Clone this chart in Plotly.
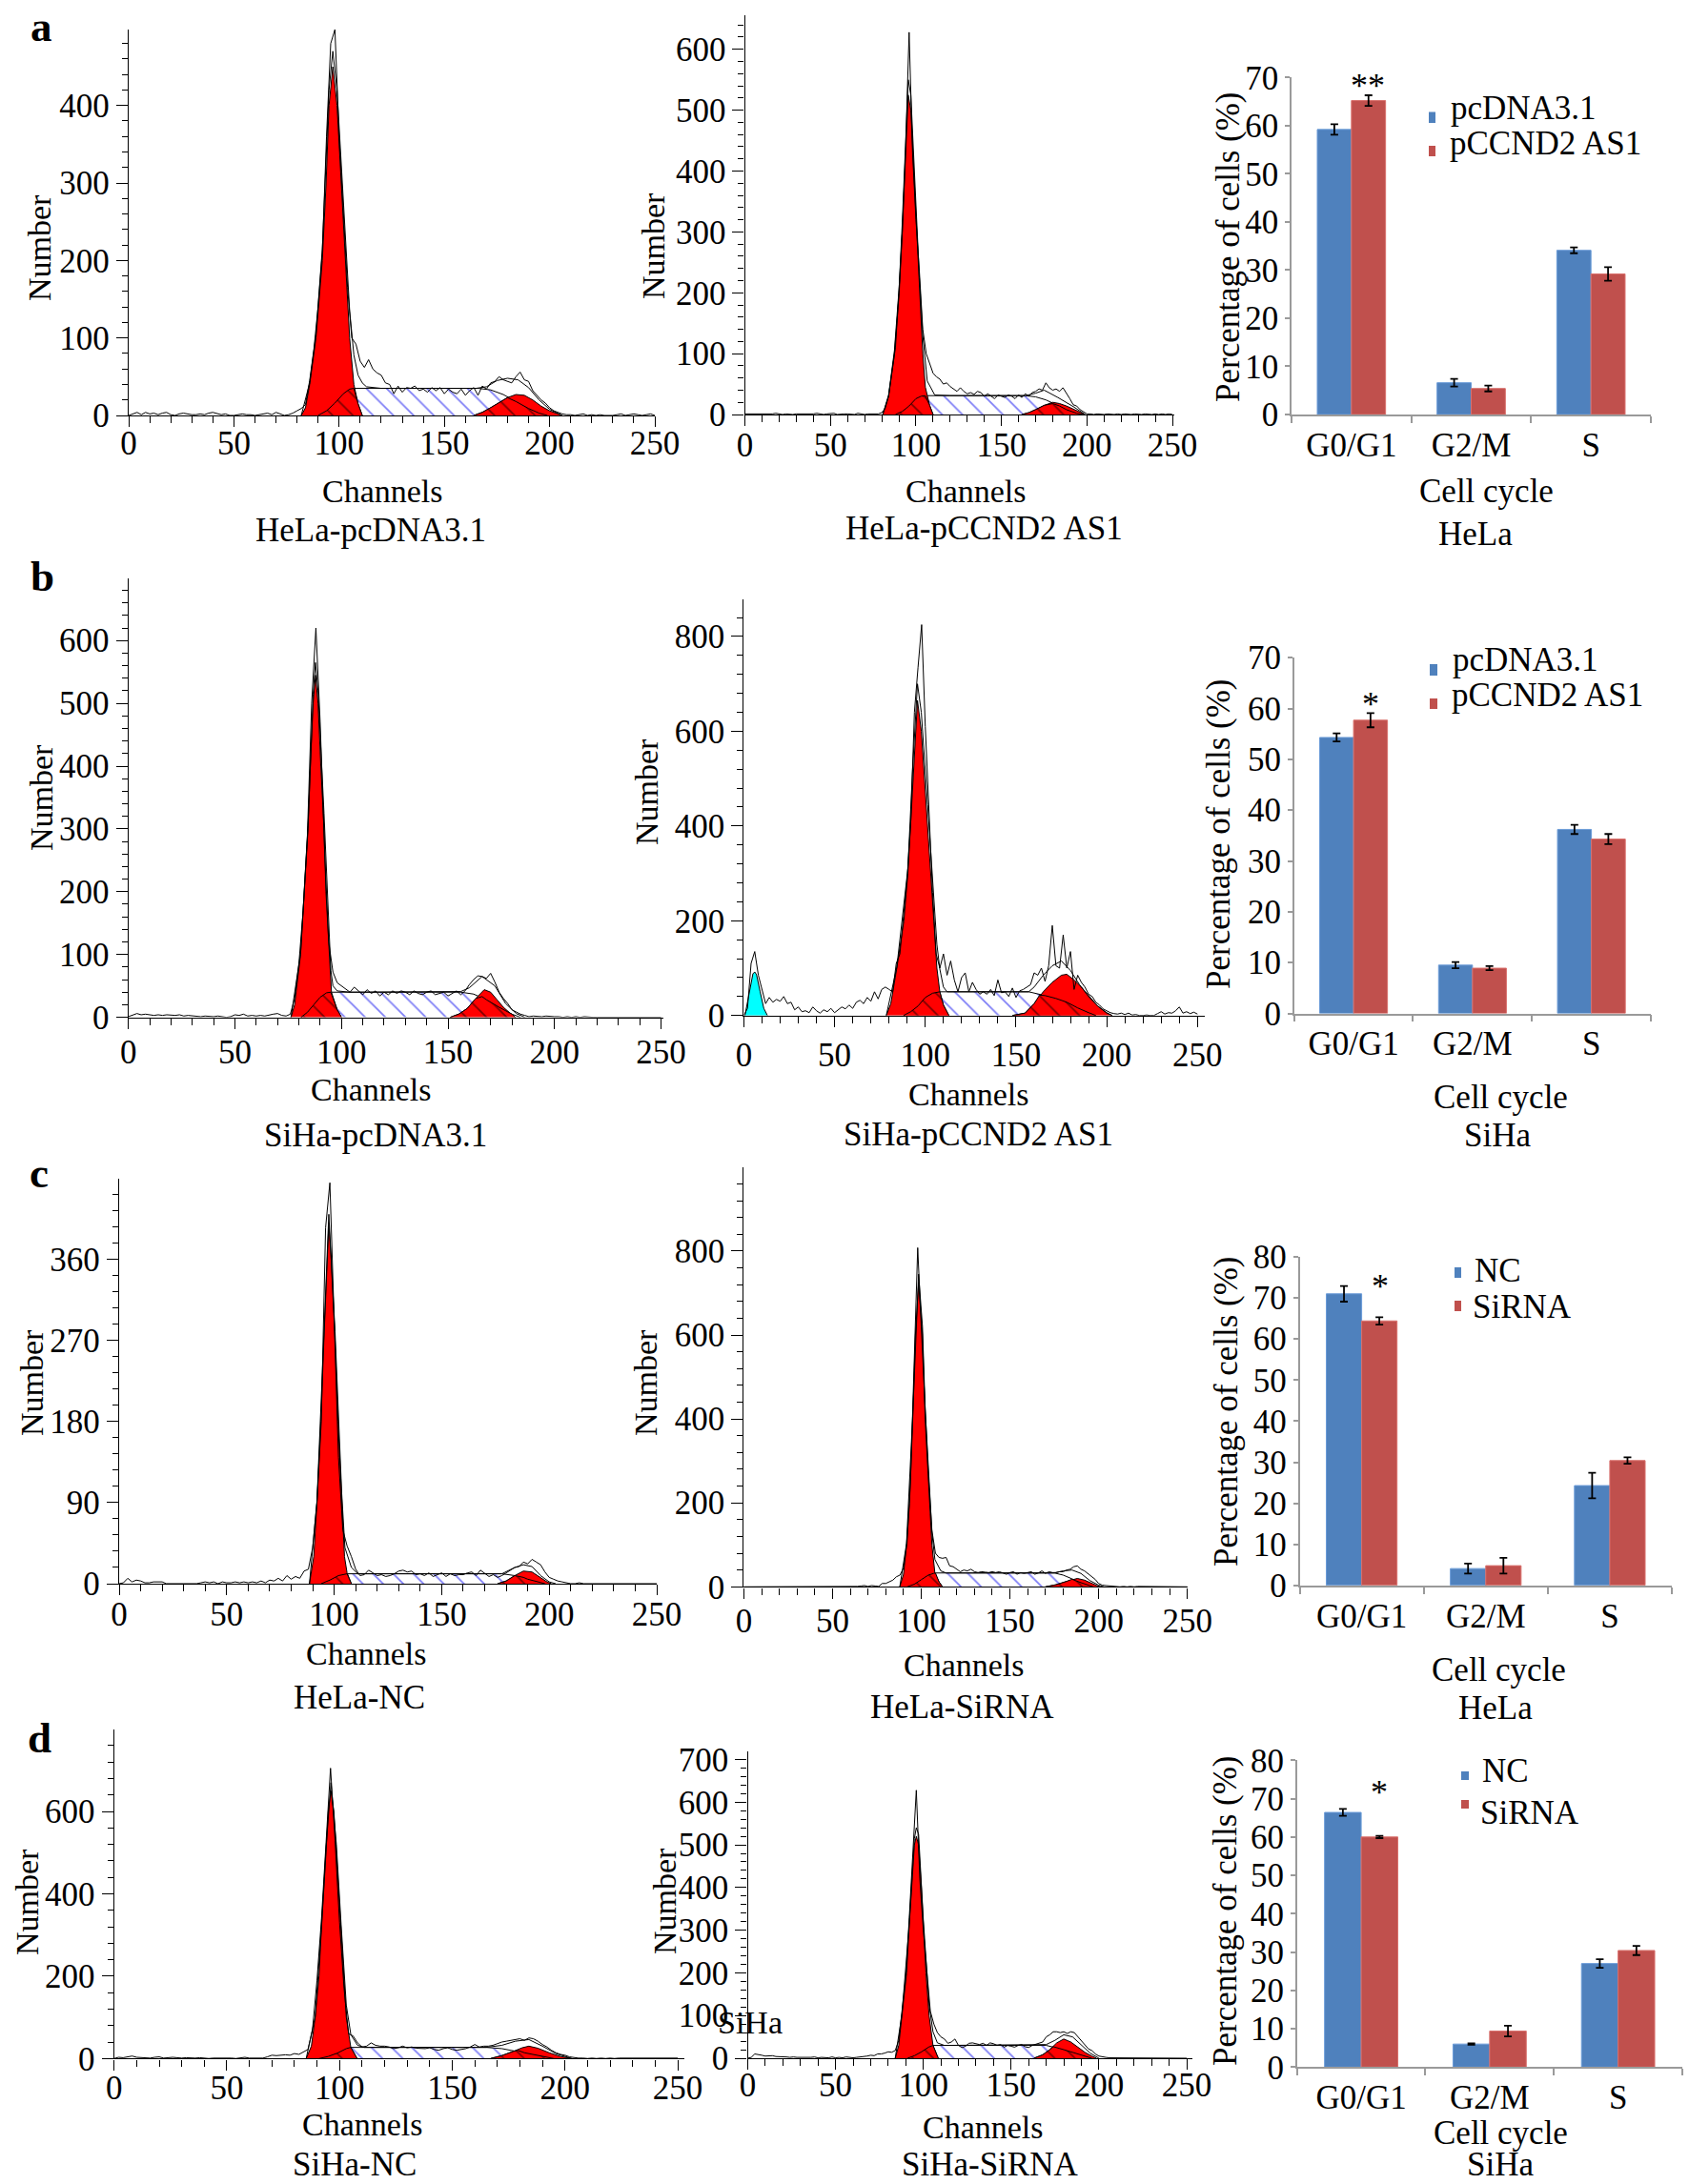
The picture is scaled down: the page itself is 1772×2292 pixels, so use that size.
import plotly.graph_objects as go

W, H = 1772, 2292
FONT = "Liberation Serif"
RED, BAR_BLUE, BAR_RED = "#ff0000", "#4f81bd", "#c0504d"
AXIS_GRAY = "#9a9a9a"

# ---------- histogram data: raw counts on a grid of every 2 channels (0..250) ----------
RAW_A1 = [0,2,4,1,4,2,3,1,3,4, 1,0,2,3,2,1,1,2,1,3, 4,2,1,2,0,0,1,2,1,1, 0,1,2,3,1,4,2,0,1,3,
          6,9,14,45,85,140,210,360,480,498, 360,265,165,100,92,70,62,72,60,55, 52,42,40,28,38,30,36,35,38,32,
          34,30,36,32,36,28,34,30,28,34, 26,32,36,26,38,34,42,44,50,46, 44,42,50,56,46,44,32,26,20,16,
          10,6,4,2,1,1,0,1,2,0, 1,0,1,0,0,0,1,2,0,1, 2,1,0,1,2,0]
RAW_A2 = [1,1,0,1,1,0,1,0,1,2, 1,0,1,0,0,1,1,0,0,1, 1,2,1,0,1,1,2,0,1,1, 1,1,0,2,1,0,1,1,0,1,
          3,10,30,70,110,200,300,440,628,430, 320,235,140,100,85,68,62,58,50,52, 46,42,38,44,38,34,36,33,38,36,
          30,34,30,26,32,30,28,32,30,26, 32,28,34,30,36,38,42,40,52,44, 40,42,38,44,36,26,16,14,8,4,
          1,1,0,1,0,0,1,0,0,1, 0,1,0,0,1,0,0,1,0,0, 1,0,1,0,1,0]
RAW_B1 = [1,4,6,4,5,4,3,4,3,4, 3,3,4,2,3,2,2,1,2,1, 1,2,1,0,1,4,3,5,2,3, 2,3,2,4,5,6,3,2,5,30,
          85,170,290,500,620,470,270,120,72,55, 50,46,40,48,42,36,44,38,42,34, 40,36,42,38,42,40,36,42,38,36,
          40,42,36,38,40,34,38,42,36,42, 52,60,66,65,62,70,56,40,30,22, 12,8,5,3,1,2,1,1,2,1,
          1,1,0,1,0,1,0,1,0,0, 0,0,0,0,0,0,0,0,0,0, 0,0,0,0,0,0]
RAW_B2 = [0,15,110,135,85,55,25,38,28,34, 30,40,25,28,12,18,8,10,6,18, 10,5,12,8,15,6,12,18,14,22, 15,28,32,25,38,30,50,35,55,60,
          55,50,110,130,210,290,410,640,735,825, 610,430,260,130,100,130,85,115,75,50, 80,90,50,70,55,45,50,45,55,42,
          75,48,50,40,58,38,52,55,60,65, 90,85,100,72,105,190,105,100,170,100, 135,55,85,70,60,45,40,28,22,14,
          10,6,4,3,5,2,5,1,2,0, 0,1,0,0,4,8,3,6,5,10, 18,5,8,4,7,3]
RAW_C1 = [0,1,6,2,4,3,1,1,2,2, 2,0,0,0,0,0,0,0,0,1, 2,1,2,0,2,1,1,2,1,2, 1,2,1,3,1,4,3,6,3,9,
          5,8,6,14,16,40,90,180,395,445, 290,140,60,42,30,16,9,10,15,12, 9,10,8,9,11,14,15,13,14,10,
          11,9,12,8,10,12,8,11,9,10, 10,12,13,9,15,11,8,10,7,9, 12,15,18,19,24,22,27,24,21,13,
          7,5,3,2,1,0,0,1,0,0, 0,0,0,0,0,0,0,0,0,0, 0,0,0,0,0,0]
RAW_C2 = [0,0,1,1,0,1,0,0,1,0, 0,0,0,0,0,0,0,0,0,1, 1,1,0,1,0,0,1,1,0,1, 1,1,1,2,3,1,3,2,1,8,
          8,12,16,24,28,45,105,260,560,808, 620,430,270,135,80,70,68,70,50,48, 42,36,40,38,42,36,34,36,35,34,
          36,34,36,33,30,34,36,30,34,32, 34,36,30,33,38,32,36,34,34,36, 36,40,42,48,50,42,38,32,26,18,
          8,4,3,2,1,1,0,1,0,1, 0,1,1,0,1,0,1,0,0,1, 0,1,0,0,0,0]
RAW_D1 = [0,3,2,4,6,3,2,2,1,3, 4,1,2,3,2,1,2,1,1,2, 1,0,1,1,2,1,1,0,2,3, 1,1,2,1,4,8,7,8,9,8,
          12,10,16,22,70,190,340,510,705,530, 330,170,60,55,38,28,30,38,32,30, 30,28,24,26,30,26,28,25,25,24,
          26,22,20,24,26,22,20,22,24,28, 34,28,30,30,32,36,40,42,44,46, 48,44,50,48,42,34,28,20,14,10,
          8,4,2,1,1,0,1,0,1,0, 1,0,1,1,0,1,0,1,0,0, 1,0,0,1,0,1]
RAW_D2 = [0,2,10,9,7,5,5,6,4,4, 3,3,2,3,2,2,2,1,2,3, 1,2,1,1,3,1,2,1,3,2, 1,2,3,3,5,7,6,10,10,12,
          15,14,18,42,110,190,330,480,628,420, 300,205,110,80,60,50,45,35,38,45, 30,25,28,35,36,34,32,35,30,36,
          34,30,32,26,30,28,26,30,32,27, 25,30,33,35,38,50,55,62,62,60, 62,58,62,60,50,40,30,22,18,10,
          5,3,2,1,1,1,0,1,0,0, 1,0,0,1,0,1,0,1,0,0, 1,0,1,0,1,0]

# ---------- fitted components as (channel, count) ----------
G1_A1 = [(82,0),(84,10),(86,40),(87,60),(89,100),(92,200),(93.8,300),(95.2,400),(97,450),(99,400),(101,300),(103,200),(105,100),(107,40),(109,15),(111,0)]
S_A1 = [(90,0),(94,6),(98,16),(102,28),(105,34),(107,35),(166,35),(172,33),(178,27),(184,18),(190,9),(195,3),(199,0)]
G2_A1 = [(164,0),(168,4),(172,10),(176,17),(180,23),(184,27),(188,26),(192,20),(196,12),(200,6),(204,2),(206,0)]
T1_A1 = [(90,0),(94,6),(98,16),(102,28),(105,34),(107,35),(109,15),(111,0)]
T2_A1 = [(164,0),(168,4),(172,10),(176,17),(180,23),(184,18),(190,9),(195,3),(199,0)]
FIT_A1 = [(82,0),(86,42),(89,105),(92,215),(95.2,420),(97,470),(99,420),(101,325),(103,225),(105,135),(107,78),(109,52),(111,42),(113,37),(120,35),(165,35),(170,37),(175,45),(180,48),(185,46),(190,36),(195,20),(200,8),(206,0)]

G1_A2 = [(80.6,0),(84,30),(87.4,100),(90.2,200),(92,300),(93.4,400),(94.9,500),(95.5,525),(97,500),(98.7,400),(100.2,300),(102,200),(104,100),(105.5,45),(108,15),(110,0)]
S_A2 = [(88,0),(92,5),(96,14),(100,26),(103,30),(105.5,31),(164,31),(170,29),(176,24),(182,16),(188,8),(194,2),(198,0)]
G2_A2 = [(162,0),(166,3),(170,8),(175,15),(180,20),(184,18),(188,14),(192,9),(196,4),(199,0)]
T1_A2 = [(88,0),(92,5),(96,14),(100,26),(103,30),(105.5,31),(108,15),(110,0)]
T2_A2 = [(162,0),(166,3),(170,8),(175,15),(180,18),(184,14),(188,8),(194,2),(198,0)]
FIT_A2 = [(80.6,0),(84,32),(87.4,105),(90.2,210),(92,315),(94.9,520),(95.5,550),(97,525),(98.7,425),(100.2,325),(102,225),(104,130),(105.5,80),(106.6,55),(111,32),(120,31),(164,31),(170,35),(175,40),(183,28),(192,13),(199,0)]

G1_B1 = [(76.3,0),(78,20),(80.8,100),(82.7,200),(84.3,300),(85.4,400),(86.7,500),(87.8,545),(89,500),(90.3,400),(91.8,300),(92.7,200),(94.3,100),(95.3,40),(98,12),(100,0)]
S_B1 = [(81,0),(84,8),(87,20),(90,32),(93,39),(95,40),(156,40),(162,37),(168,28),(174,16),(180,5),(184,0)]
G2_B1 = [(151,0),(155,5),(159,14),(163,30),(167,44),(170,40),(173,28),(176,16),(179,7),(181.6,0)]
T1_B1 = [(81,0),(84,8),(87,20),(90,32),(93,39),(95,40),(98,12),(100,0)]
T2_B1 = [(151,0),(155,5),(159,14),(163,30),(166,33),(168,28),(174,16),(180,5),(181.6,0)]
FIT_B1 = [(76.3,0),(80.8,102),(84.3,305),(86.7,515),(87.8,565),(89,520),(91.8,325),(94.3,135),(95,75),(96,50),(98,42),(104,40),(156,41),(160,47),(166,65),(172,50),(177,22),(182,6),(186,0)]

CY_B2 = [(0.6,0),(3,50),(5,88),(6,92),(7,86),(9,50),(11,15),(13,0)]
G1_B2 = [(78.5,0),(81,25),(84.3,100),(88.2,200),(90.4,300),(91.8,400),(93,500),(94.6,600),(95.7,665),(97.8,600),(99.6,500),(101.3,400),(103.2,300),(104.7,200),(106.4,100),(108,50),(110,22),(113,0)]
S_B2 = [(88,0),(92,8),(96,20),(100,38),(104,47),(108,50),(157,50),(162,46),(166,42),(172,36),(178,28),(184,16),(190,6),(194,0)]
G2_B2 = [(148,0),(155,5),(160,25),(165,50),(170,70),(175,85),(178,87),(182,75),(186,60),(190,42),(195,20),(200,6),(203,0)]
T1_B2 = [(88,0),(92,8),(96,20),(100,38),(104,47),(108,50),(110,22),(113,0)]
T2_B2 = [(148,0),(155,5),(160,25),(163,43),(166,42),(172,36),(178,28),(184,16),(190,6),(194,0)]
FIT_B2 = [(78.5,0),(84.3,102),(90.4,310),(93,520),(95.7,700),(97.8,640),(101.3,445),(104.7,250),(106.4,150),(108,98),(110,60),(112,50),(157,50),(160,60),(165,85),(170,105),(175,115),(180,95),(185,65),(190,40),(195,20),(200,5),(203,0)]

G1_C1 = [(88.5,0),(90.5,30),(92,90),(93.8,180),(95.2,270),(96.8,360),(97.5,400),(98.6,360),(100.4,270),(101.8,180),(103.5,90),(104.8,30),(106,12),(108,0)]
S_C1 = [(94,0),(98,4),(102,9),(105,11),(178,11),(184,9),(190,5),(198,0)]
G2_C1 = [(176,0),(180,3),(184,9),(188,14),(192,13),(196,7),(199,2),(201,0)]
T1_C1 = [(94,0),(98,4),(102,9),(105,11),(106,11),(108,0)]
T2_C1 = [(176,0),(180,3),(184,9),(188,7),(190,5),(198,0)]
FIT_C1 = [(88.5,0),(92,92),(95.2,275),(97.5,410),(100.4,280),(103.5,100),(105,40),(108,18),(111,11),(178,11),(184,18),(188,21),(192,19),(196,9),(200,2),(203,0)]

G1_C2 = [(87.9,0),(90,30),(91.7,100),(93.4,200),(95.2,400),(96.7,600),(98.5,725),(100.7,600),(102.2,400),(104.8,200),(106,100),(107.7,33),(110,12),(112,0)]
S_C2 = [(92,0),(96,6),(100,17),(104,28),(107,32),(108,33),(175,33),(180,28),(185,19),(190,10),(197,0)]
G2_C2 = [(170,0),(176,5),(182,13),(188,20),(192,16),(196,8),(199,3),(201,0)]
T1_C2 = [(92,0),(96,6),(100,17),(104,28),(107,32),(108,33),(110,12),(112,0)]
T2_C2 = [(170,0),(176,5),(182,13),(185,18),(190,10),(197,0)]
FIT_C2 = [(87.9,0),(91.7,103),(95.2,410),(98.5,745),(100.7,620),(102.2,425),(104.8,225),(106,130),(107.7,65),(111,38),(114,33),(175,33),(180,38),(185,40),(190,32),(195,15),(200,4),(203,0)]

G1_D1 = [(85.2,0),(87.5,30),(89.2,100),(90.9,200),(91.8,300),(93,400),(94,500),(95,600),(96.2,650),(97.5,600),(98.6,500),(99.7,400),(100.7,300),(101.7,200),(103,100),(105,27),(107.8,0)]
S_D1 = [(91,0),(95,5),(99,13),(103,24),(105,27),(165,27),(172,24),(180,16),(188,7),(195,0)]
G2_D1 = [(167,0),(172,7),(177,17),(181,26),(184,30),(188,25),(193,14),(198,5),(203,0)]
T1_D1 = [(91,0),(95,5),(99,13),(103,24),(105,27),(107.8,0)]
T2_D1 = [(167,0),(172,7),(177,17),(179,20),(182,14),(188,7),(195,0)]
FIT_D1 = [(85.2,0),(89.2,102),(91.8,305),(94,510),(96.2,670),(98.6,520),(100.7,325),(103,130),(105,58),(108,32),(111,27),(165,27),(172,32),(178,42),(184,46),(190,30),(196,12),(203,0)]

G1_D2 = [(84,0),(86,30),(87.8,100),(90.5,200),(91.8,300),(93.4,400),(94.9,500),(96,520),(97.3,500),(98.9,400),(100,300),(101.5,200),(103.3,100),(105.5,30),(108.5,0)]
S_D2 = [(91,0),(95,6),(99,15),(103,26),(105.5,30),(170,30),(175,25),(180,20),(188,10),(196,0)]
G2_D2 = [(163,0),(168,8),(172,20),(176,36),(180,45),(184,38),(188,26),(192,14),(196,5),(198.6,0)]
T1_D2 = [(91,0),(95,6),(99,15),(103,26),(105.5,30),(108.5,0)]
T2_D2 = [(163,0),(168,8),(172,20),(174,27),(180,20),(188,10),(196,0)]
FIT_D2 = [(84,0),(87.8,102),(91.8,305),(94.9,515),(96,540),(97.3,525),(100,325),(103.3,125),(105.5,62),(108,36),(112,30),(170,32),(175,42),(180,55),(185,50),(190,30),(195,12),(200,0)]

# ---------- bar data ----------
CATEGORIES = ["G0/G1", "G2/M", "S"]
A3_CTRL, A3_CTRL_ERR = [59.2, 6.6, 34.1], [1.1, 0.8, 0.6]
A3_TEST, A3_TEST_ERR = [65.2, 5.4, 29.2], [1.1, 0.6, 1.4]
B3_CTRL, B3_CTRL_ERR = [54.3, 9.5, 36.2], [0.8, 0.6, 0.9]
B3_TEST, B3_TEST_ERR = [57.7, 8.9, 34.3], [1.4, 0.4, 1.0]
C3_CTRL, C3_CTRL_ERR = [71.0, 4.1, 24.3], [1.9, 1.2, 3.1]
C3_TEST, C3_TEST_ERR = [64.4, 4.8, 30.4], [0.9, 1.9, 0.8]
D3_CTRL, D3_CTRL_ERR = [66.4, 6.0, 27.0], [0.9, 0.2, 1.1]
D3_TEST, D3_TEST_ERR = [60.0, 9.4, 30.4], [0.3, 1.4, 1.2]

# ---------- text ----------
NUMBER = "Number"
CHANNELS = "Channels"
PERCENT = "Percentage of cells (%)"
CYCLE = "Cell cycle"

# ---------- geometry (pixels in the 1772x2292 page) ----------
HISTS = [
 dict(raw=RAW_A1, g1=G1_A1, s=S_A1, g2=G2_A1, t1=T1_A1, t2=T2_A1, fit=FIT_A1, xs=-13,
      x0=135, x250=687, xmax=250, y0=436, ytop=31, ymax=498, dt=100, mt=20,
      ylab=(41,260), xlab=(401,516), cap="HeLa-pcDNA3.1", capxy=(389,556)),
 dict(raw=RAW_A2, g1=G1_A2, s=S_A2, g2=G2_A2, t1=T1_A2, t2=T2_A2, fit=FIT_A2, xs=-10,
      x0=781.6, x250=1230, xmax=251, y0=435, ytop=16, ymax=656, dt=100, mt=20,
      ylab=(685,258), xlab=(1013,516), cap="HeLa-pCCND2 AS1", capxy=(1032,555)),
 dict(raw=RAW_B1, g1=G1_B1, s=S_B1, g2=G2_B1, t1=T1_B1, t2=T2_B1, fit=FIT_B1, xs=-6,
      x0=134.7, x250=693.6, xmax=251, y0=1067.6, ytop=607, ymax=699, dt=100, mt=20,
      ylab=(43,837), xlab=(389,1143), cap="SiHa-pcDNA3.1", capxy=(394,1191)),
 dict(raw=RAW_B2, g1=G1_B2, s=S_B2, g2=G2_B2, t1=T1_B2, t2=T2_B2, fit=FIT_B2, cy=CY_B2, xs=-1,
      x0=780.4, x250=1256.3, xmax=254, y0=1065.7, ytop=628.7, ymax=879, dt=200, mt=40,
      ylab=(679,831), xlab=(1016,1148), cap="SiHa-pCCND2 AS1", capxy=(1026,1190)),
 dict(raw=RAW_C1, g1=G1_C1, s=S_C1, g2=G2_C1, t1=T1_C1, t2=T2_C1, fit=FIT_C1, xs=-10,
      x0=125, x250=689, xmax=250, y0=1662, ytop=1236.7, ymax=449.8, dt=90, mt=18,
      ylab=(33,1451), xlab=(384,1735), cap="HeLa-NC", capxy=(377,1781)),
 dict(raw=RAW_C2, g1=G1_C2, s=S_C2, g2=G2_C2, t1=T1_C2, t2=T2_C2, fit=FIT_C2, xs=-7,
      x0=780.4, x250=1245.7, xmax=250, y0=1665.3, ytop=1225.3, ymax=999, dt=200, mt=40,
      ylab=(677,1451), xlab=(1011,1747), cap="HeLa-SiRNA", capxy=(1010,1791)),
 dict(raw=RAW_D1, g1=G1_D1, s=S_D1, g2=G2_D1, t1=T1_D1, t2=T2_D1, fit=FIT_D1, xs=-12,
      x0=119.7, x250=711, xmax=253, y0=2160.3, ytop=1815, ymax=799, dt=200, mt=40,
      ylab=(28,1996), xlab=(380,2229), cap="SiHa-NC", capxy=(372,2271)),
 dict(raw=RAW_D2, g1=G1_D2, s=S_D2, g2=G2_D2, t1=T1_D2, t2=T2_D2, fit=FIT_D2, xs=-14,
      x0=784.5, x250=1245, xmax=253, y0=2160, ytop=1838, ymax=719, dt=100, mt=20,
      ylab=(697,1995), xlab=(1031,2232), cap="SiHa-SiRNA", capxy=(1038,2271)),
]
BARS = [
 dict(ctrl=A3_CTRL, ce=A3_CTRL_ERR, test=A3_TEST, te=A3_TEST_ERR, names=("pcDNA3.1","pCCND2 AS1"),
      x0=1355, x1=1732, y0=435, ytop=81.3, ymax=70, dt=10,
      ylab=(1289,259), xlab=(1559,515), cap="HeLa", capxy=(1548,560), star="**", starxy=(1435,90),
      sw=(1499,1506), sw1=(117.5,129), sw2=(153,164), t1=(1520,113), t2=(1519,150)),
 dict(ctrl=B3_CTRL, ce=B3_CTRL_ERR, test=B3_TEST, te=B3_TEST_ERR, names=("pcDNA3.1","pCCND2 AS1"),
      x0=1357.7, x1=1732, y0=1063.5, ytop=690.2, ymax=70, dt=10,
      ylab=(1279,875), xlab=(1574,1151), cap="SiHa", capxy=(1571,1191), star="*", starxy=(1437.5,739),
      sw=(1500,1508), sw1=(697,709), sw2=(733,744), t1=(1522,692), t2=(1521,729)),
 dict(ctrl=C3_CTRL, ce=C3_CTRL_ERR, test=C3_TEST, te=C3_TEST_ERR, names=("NC","SiRNA"),
      x0=1363.5, x1=1754, y0=1663.8, ytop=1319, ymax=80, dt=10,
      ylab=(1286,1481), xlab=(1572.5,1752), cap="HeLa", capxy=(1569,1792), star="*", starxy=(1447.7,1350),
      sw=(1526,1533), sw1=(1330,1341), sw2=(1365,1376), t1=(1545,1333), t2=(1543,1372)),
 dict(ctrl=D3_CTRL, ce=D3_CTRL_ERR, test=D3_TEST, te=D3_TEST_ERR, names=("NC","SiRNA"),
      x0=1360.7, x1=1765, y0=2169.3, ytop=1847.3, ymax=80, dt=10,
      ylab=(1285,2005), xlab=(1574,2238), cap="SiHa", capxy=(1574,2271), star="*", starxy=(1447,1881),
      sw=(1533,1541), sw1=(1859,1868), sw2=(1889,1898), t1=(1553,1858), t2=(1551,1902)),
]
LETTERS = [("a",43,28),("b",44,605),("c",41,1231),("d",41,1824)]
STRAY = ("SiHa", 787, 2122)

fig = go.Figure()
anns, shapes, axes = [], [], {}

def text(s, x, y, size=34, angle=0, xanchor="center", bold=False):
    anns.append(dict(text=f"<b>{s}</b>" if bold else s, x=x/W, y=1-y/H, xref="paper", yref="paper",
                     xanchor=xanchor, yanchor="middle", showarrow=False, textangle=angle,
                     font=dict(family=FONT, size=size, color="black")))

def area(xa, ya, pts, lw=1.0, **kw):
    xs, ys = zip(*pts)
    fig.add_trace(go.Scatter(x=xs, y=ys, mode="lines", xaxis=xa, yaxis=ya, showlegend=False,
                             hoverinfo="skip", line=dict(color="black", width=lw), **kw))

n = 0
for p in HISTS:
    n += 1
    assert len(p["raw"]) == 126, (n, len(p["raw"]))
    xa, ya = f"x{n}", f"y{n}"
    span = (p["x250"] - p["x0"]) / 250
    x1 = p["x0"] + span * p["xmax"]
    axes[f"xaxis{n}"] = dict(domain=[p["x0"]/W, x1/W], range=[0, p["xmax"]], anchor=ya, dtick=50, tick0=0, automargin=False,
        ticks="outside", ticklen=11, tickwidth=1.4, tickcolor="black", showline=True, linecolor="black",
        linewidth=1.4, showgrid=False, zeroline=False, ticklabelstandoff=p["xs"], tickfont=dict(family=FONT, size=35, color="black"),
        minor=dict(dtick=10, tick0=0, ticks="outside", ticklen=7, tickwidth=1.2, tickcolor="black", showgrid=False))
    axes[f"yaxis{n}"] = dict(domain=[1-p["y0"]/H, 1-p["ytop"]/H], range=[0, p["ymax"]], anchor=xa, dtick=p["dt"], tick0=0, automargin=False,
        ticks="outside", ticklen=12, tickwidth=1.4, tickcolor="black", showline=True, linecolor="black",
        linewidth=1.4, showgrid=False, zeroline=False, tickfont=dict(family=FONT, size=35, color="black"),
        minor=dict(dtick=p["mt"], tick0=0, ticks="outside", ticklen=6, tickwidth=1.2, tickcolor="black", showgrid=False))
    area(xa, ya, p["s"], fill="tozeroy",
         fillpattern=dict(shape="\\", fgcolor="#0000ee", bgcolor="white", size=15, solidity=0.12))
    area(xa, ya, p["g1"], fill="tozeroy", fillcolor=RED)
    area(xa, ya, p["g2"], fill="tozeroy", fillcolor=RED)
    if "cy" in p:
        area(xa, ya, p["cy"], fill="tozeroy", fillcolor="#00ffff")
    for key in ("t1", "t2"):
        area(xa, ya, p[key], fill="tozeroy",
             fillpattern=dict(shape="\\", fgcolor="black", bgcolor=RED, size=15, solidity=0.12))
    area(xa, ya, p["fit"])
    grid = list(range(0, 252, 2))
    area(xa, ya, list(zip(grid, p["raw"])))
    text(NUMBER, *p["ylab"], angle=-90)
    text(CHANNELS, *p["xlab"])
    text(p["cap"], *p["capxy"], size=35)

for b in BARS:
    n += 1
    xa, ya = f"x{n}", f"y{n}"
    axes[f"xaxis{n}"] = dict(domain=[b["x0"]/W, b["x1"]/W], type="category", range=[-0.5, 2.5], anchor=ya, automargin=False,
        categoryorder="array", categoryarray=CATEGORIES, tickson="boundaries", ticks="outside", ticklen=7, tickwidth=1.5, tickcolor=AXIS_GRAY,
        showline=True, linecolor=AXIS_GRAY, linewidth=1.5, showgrid=False, zeroline=False,
        tickfont=dict(family=FONT, size=35, color="black"))
    axes[f"yaxis{n}"] = dict(domain=[1-b["y0"]/H, 1-b["ytop"]/H], range=[0, b["ymax"]], anchor=xa, dtick=b["dt"], tick0=0, automargin=False,
        ticks="outside", ticklen=5, tickwidth=1.5, tickcolor=AXIS_GRAY, showline=True, linecolor=AXIS_GRAY,
        linewidth=1.5, showgrid=False, zeroline=False, tickfont=dict(family=FONT, size=35, color="black"))
    for vals, errs, col, edge, name in ((b["ctrl"], b["ce"], BAR_BLUE, "#6a9bd8", b["names"][0]),
                                        (b["test"], b["te"], BAR_RED, "#d9706c", b["names"][1])):
        fig.add_trace(go.Bar(x=CATEGORIES, y=vals, xaxis=xa, yaxis=ya, name=name, showlegend=False, offsetgroup=name,
                             marker=dict(color=col, line=dict(color=edge, width=1)),
                             error_y=dict(type="data", array=errs, color="black", thickness=1.8, width=4)))
    text(PERCENT, *b["ylab"], size=35, angle=-90)
    text(CYCLE, *b["xlab"], size=35)
    text(b["cap"], *b["capxy"], size=35)
    text(b["star"], *b["starxy"], size=36)
    text(b["names"][0], *b["t1"], size=35, xanchor="left")
    text(b["names"][1], *b["t2"], size=35, xanchor="left")
    for rng, col in ((b["sw1"], BAR_BLUE), (b["sw2"], BAR_RED)):
        shapes.append(dict(type="rect", xref="paper", yref="paper", x0=b["sw"][0]/W, x1=b["sw"][1]/W,
                           y0=1-rng[1]/H, y1=1-rng[0]/H, fillcolor=col, line=dict(width=0)))

for s, x, y in LETTERS:
    text(s, x, y, size=45, bold=True)
text(*STRAY)

fig.update_layout(width=W, height=H, autosize=False, margin=dict(l=0, r=0, t=0, b=0, pad=0),
                  paper_bgcolor="white", plot_bgcolor="white", barmode="group", bargap=0.43, bargroupgap=0,
                  showlegend=False, annotations=anns, shapes=shapes, font=dict(family=FONT), **axes)
fig.write_html("out.html", config={"displayModeBar": False}, post_script="document.body.style.margin='0';")
